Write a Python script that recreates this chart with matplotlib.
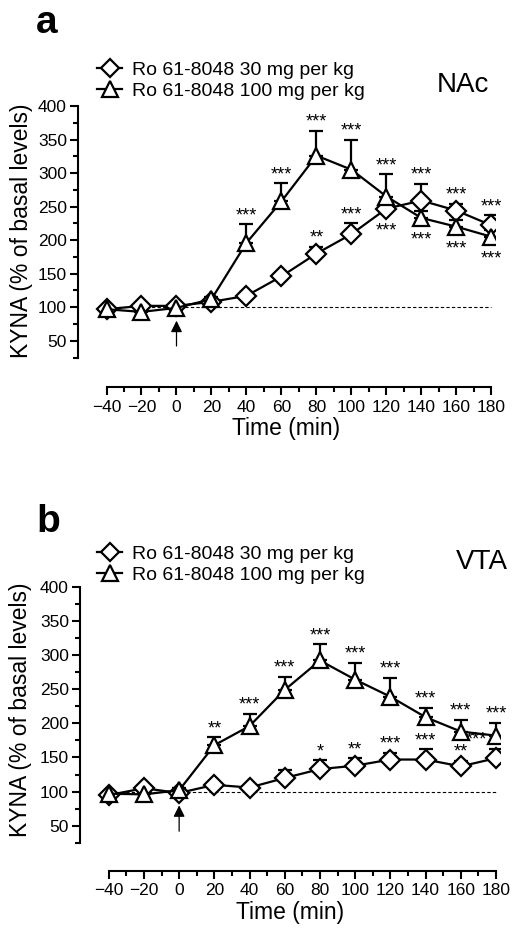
import numpy as np
import matplotlib.pyplot as plt
from matplotlib.lines import Line2D

plt.rcParams['font.family'] = ['Liberation Sans', 'DejaVu Sans']

# data
time = [-40, -20, 0, 20, 40, 60, 80, 100, 120, 140, 160, 180]

nac_30 = [97, 102, 102, 108, 117, 146, 180, 209, 247, 259, 244, 222]
nac_30_err = [3, 3, 3, 3, 5, 5, 10, 16, 8, 25, 10, 15]
nac_100 = [97, 93, 99, 112, 196, 258, 326, 305, 265, 233, 220, 205]
nac_100_err = [3, 3, 3, 3, 28, 27, 37, 45, 33, 10, 10, 10]
nac_30_sig = ['', '', '', '', '', '', '**', '***', '***', '***', '***', '***']
nac_30_side = ['', '', '', '', '', '', 'up', 'up', 'down', 'up', 'up', 'up']
nac_100_sig = ['', '', '', '', '***', '***', '***', '***', '***', '***', '***', '***']
nac_100_side = ['', '', '', '', 'up', 'up', 'up', 'up', 'up', 'down', 'down', 'down']

vta_30 = [95, 105, 98, 110, 106, 120, 133, 138, 147, 147, 137, 149]
vta_30_err = [3, 3, 3, 3, 3, 12, 13, 11, 10, 15, 8, 14]
vta_100 = [97, 96, 102, 168, 196, 249, 292, 264, 239, 209, 188, 182]
vta_100_err = [3, 3, 3, 12, 18, 19, 24, 25, 28, 14, 17, 19]
vta_30_sig = ['', '', '', '', '', '', '*', '**', '***', '***', '**', '***']
vta_30_side = ['', '', '', '', '', '', 'up', 'up', 'up', 'up', 'up', 'up']
vta_100_sig = ['', '', '', '**', '***', '***', '***', '***', '***', '***', '***', '***']
vta_100_side = ['', '', '', 'up', 'up', 'up', 'up', 'up', 'up', 'up', 'up', 'up']

labels = ['Ro 61-8048 30 mg per kg', 'Ro 61-8048 100 mg per kg']

W, H = 513, 938
fig = plt.figure(figsize=(W / 100, H / 100), dpi=100)


def fx(px):
    return px / W


def fy(py):
    return (H - py) / H


def draw_panel(rect, ylow, d30, e30, d100, e100, sig30, side30, sig100, side100,
               region, letter, lab_xy, leg_xy, reg_xy, let_xy, nudge30=None):
    ax = fig.add_axes(rect)
    ax.plot([-40, 180], [100, 100], ls='--', color='black', lw=0.8, dashes=(3, 2), zorder=1)
    t = np.array(time)
    for d, e, m, ms in [(d30, e30, 'D', 10), (d100, e100, '^', 12)]:
        d = np.array(d)
        e = np.array(e)
        ax.errorbar(t, d, yerr=[np.zeros_like(e), e], fmt='none', ecolor='black',
                    elinewidth=1.6, capsize=5, capthick=1.6, zorder=2)
        ax.plot(t, d, color='black', lw=1.6, marker=m, ms=ms, mfc='white',
                mec='black', mew=1.6, zorder=3)
    # significance stars
    for d, e, sig, side, nud in [(d30, e30, sig30, side30, nudge30),
                                 (d100, e100, sig100, side100, None)]:
        for i, s in enumerate(sig):
            if not s:
                continue
            dx = 0
            if nud and i in nud:
                dx = nud[i]
            if side[i] == 'up':
                ax.annotate(s, (time[i], d[i] + e[i]), xytext=(dx, 0),
                            textcoords='offset points', ha='center', va='bottom',
                            fontsize=13)
            else:
                ax.annotate(s, (time[i], d[i]), xytext=(dx, -10),
                            textcoords='offset points', ha='center', va='top',
                            fontsize=13)
    # injection arrow
    ax.annotate('', xy=(0, 84), xytext=(0, 38),
                arrowprops=dict(arrowstyle='-|>', color='black', lw=0.9,
                                mutation_scale=17))
    ax.set_xlim(-56.3, 182)
    ax.set_ylim(ylow, 400)
    ax.spines['top'].set_visible(False)
    ax.spines['right'].set_visible(False)
    ax.spines['left'].set_bounds(25, 400)
    ax.spines['bottom'].set_bounds(-40, 180)
    for sp in ['left', 'bottom']:
        ax.spines[sp].set_linewidth(1.5)
    ax.set_xticks([v for v in range(-40, 181, 20)])
    ax.set_xticklabels(['\u221240', '\u221220'] + [str(v) for v in range(0, 181, 20)])
    ax.set_yticks([50, 100, 150, 200, 250, 300, 350, 400])
    ax.set_xticks([v for v in range(-30, 180, 20)], minor=True)
    ax.set_yticks([25, 75, 125, 175, 225, 275, 325, 375], minor=True)
    ax.tick_params(which='major', length=6, width=1.5, labelsize=12.5, pad=2)
    ax.tick_params(which='minor', length=3.5, width=1.5)
    ax.tick_params(axis='x', which='major', pad=3)
    ax.set_xlabel('Time (min)', fontsize=16.5, labelpad=2)
    ax.set_ylabel('KYNA (% of basal levels)', fontsize=16.5)
    ax.yaxis.set_label_coords(*lab_xy)

    handles = [Line2D([], [], color='black', lw=1.6, marker='D', ms=9, mfc='white', mew=1.6),
               Line2D([], [], color='black', lw=1.6, marker='^', ms=11, mfc='white', mew=1.6)]
    fig.legend(handles, labels, loc='upper left',
               bbox_to_anchor=(fx(leg_xy[0]), fy(leg_xy[1])),
               frameon=False, fontsize=14, handlelength=1.3, handletextpad=0.5,
               labelspacing=0.2, borderaxespad=0, borderpad=0)
    fig.text(fx(reg_xy[0]), fy(reg_xy[1]), region,
             ha='right', va='center', fontsize=20)
    fig.text(fx(let_xy[0]), fy(let_xy[1]), letter, ha='left', va='baseline',
             fontsize=28, fontweight='bold')
    return ax


draw_panel([0.152, 0.5874, 0.8129, 0.2996], -19,
           nac_30, nac_30_err, nac_100, nac_100_err,
           nac_30_sig, nac_30_side, nac_100_sig, nac_100_side, 'NAc', 'a',
           lab_xy=(-0.108, 0.555), leg_xy=(97, 61), reg_xy=(489, 85), let_xy=(36, 33))
draw_panel([0.156, 0.0717, 0.8177, 0.3028], -15.8,
           vta_30, vta_30_err, vta_100, vta_100_err,
           vta_30_sig, vta_30_side, vta_100_sig, vta_100_side, 'VTA', 'b',
           lab_xy=(-0.114, 0.566), leg_xy=(97, 545), reg_xy=(508, 562), let_xy=(36, 532),
           nudge30={11: -14})

fig.savefig('out.png', dpi=100)
